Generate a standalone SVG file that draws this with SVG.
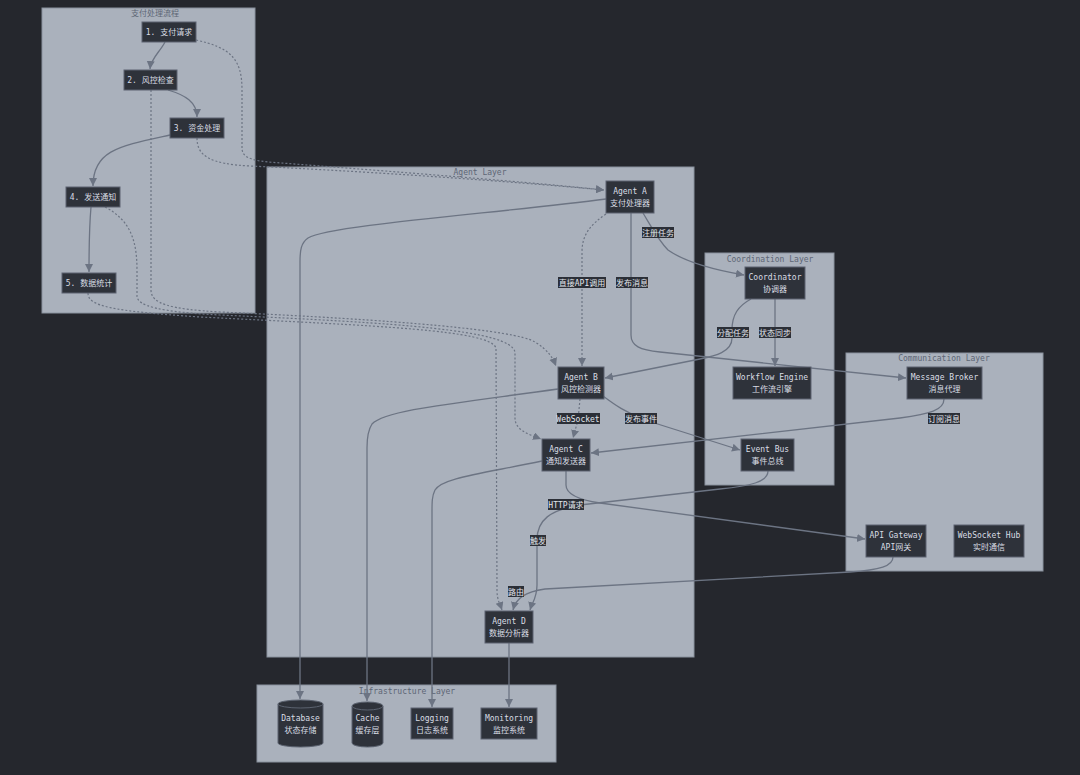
<svg xmlns="http://www.w3.org/2000/svg" width="1080" height="775" viewBox="0 0 1080 775">
<defs>
<style>
.cl{fill:#aab1bc;stroke:#8a929e;stroke-width:1}
.ct{font-family:"DejaVu Sans Mono","Noto Sans CJK SC",monospace;font-size:8px;fill:#5d6675;text-anchor:middle}
.nd{fill:#2e323a;stroke:#5c6370;stroke-width:1}
.nt{font-family:"DejaVu Sans Mono","Noto Sans CJK SC",monospace;font-size:8px;fill:#d9dde4;text-anchor:middle}
.e{fill:none;stroke:#6c7483;stroke-width:1.3}
.d{fill:none;stroke:#6c7483;stroke-width:1.2;stroke-dasharray:2 2}
.lb{fill:#2b2f37}
.lt{font-family:"DejaVu Sans Mono","Noto Sans CJK SC",monospace;font-size:8px;fill:#e1e5ec;text-anchor:middle}
</style>
<marker id="ah" markerUnits="userSpaceOnUse" markerWidth="9" markerHeight="9" refX="8" refY="4" orient="auto">
<path d="M0,0 L8,4 L0,8 z" fill="#6c7483"/>
</marker>
</defs>
<rect width="1080" height="775" fill="#25272d"/>

<g id="clusters">
<g id="cluster-pay"><rect class="cl" x="42" y="8" width="213" height="305"/><text class="ct" x="155" y="16">支付处理流程</text></g>
<g id="cluster-agent"><rect class="cl" x="267" y="167" width="427" height="490"/><text class="ct" x="480" y="175">Agent Layer</text></g>
<g id="cluster-coord"><rect class="cl" x="705" y="253" width="129" height="232"/><text class="ct" x="770" y="262">Coordination Layer</text></g>
<g id="cluster-comm"><rect class="cl" x="846" y="353" width="197" height="218"/><text class="ct" x="944" y="361">Communication Layer</text></g>
<g id="cluster-infra"><rect class="cl" x="257" y="685" width="299" height="77"/><text class="ct" x="407" y="694">Infrastructure Layer</text></g>
</g>

<g id="connectors">
<path class="e" d="M165,42 C160,52 151,58 150,69" marker-end="url(#ah)"/>
<path class="e" d="M168,90 C185,95 197,102 197,117" marker-end="url(#ah)"/>
<path class="e" d="M170,135 C120,146 93,150 93,186" marker-end="url(#ah)"/>
<path class="e" d="M91,207 C89,230 89,250 89,272" marker-end="url(#ah)"/>

<path class="d" d="M196,40 C232,48 242,60 242,90 L242,148 C242,157 250,160 268,162 C400,172 540,183 604,190" marker-end="url(#ah)"/>
<path class="d" d="M197,138 C197,156 210,164 250,166 C400,173 540,184 604,190" marker-end="url(#ah)"/>
<path class="d" d="M151,90 L151,290 C151,304 170,309 220,312 C400,320 515,330 535,342 C548,350 553,358 556,366" marker-end="url(#ah)"/>
<path class="d" d="M105,207 C130,220 137,240 137,270 L137,296 C137,306 160,312 220,315 C400,323 510,330 515,352 L515,418 C515,430 528,434 541,439" marker-end="url(#ah)"/>
<path class="d" d="M88,293 C88,306 110,311 200,317 C380,326 490,330 496,348 L497,590 C497,600 500,604 502,610" marker-end="url(#ah)"/>

<path class="e" d="M606,199 C500,213 330,225 308,238 C301,243 300,250 300,262 L300,699" marker-end="url(#ah)"/>
<path class="e" d="M643,213 C652,228 658,240 668,250 C685,262 715,270 744,275" marker-end="url(#ah)"/>
<path class="d" d="M606,214 C590,225 582,235 582,252 L582,366" marker-end="url(#ah)"/>
<path class="e" d="M631,213 L631,335 C631,346 640,350 660,352 L906,378" marker-end="url(#ah)"/>
<path class="e" d="M751,299 C738,306 732,315 732,330 L732,338 C732,352 715,356 700,359 L605,378" marker-end="url(#ah)"/>
<path class="e" d="M775,299 L775,366" marker-end="url(#ah)"/>
<path class="e" d="M558,389 C450,404 385,410 372,424 C368,430 367,436 367,448 L367,701" marker-end="url(#ah)"/>
<path class="d" d="M580,399 L578,420 L573,438" marker-end="url(#ah)"/>
<path class="e" d="M603,396 C615,405 625,412 645,420 L740,450" marker-end="url(#ah)"/>
<path class="e" d="M944,399 C944,410 930,414 900,418 L591,453" marker-end="url(#ah)"/>
<path class="e" d="M542,461 C480,474 442,478 435,490 C432,496 432,502 432,512 L432,707" marker-end="url(#ah)"/>
<path class="e" d="M566,471 L566,485 C566,495 580,500 600,503 L865,539" marker-end="url(#ah)"/>
<path class="e" d="M768,471 C768,482 750,486 720,489 L580,505 C550,510 537,520 537,540 L537,585 C537,598 532,603 530,610" marker-end="url(#ah)"/>
<path class="e" d="M893,557 C893,566 880,570 850,572 L545,589 C525,592 516,598 513,610" marker-end="url(#ah)"/>
<path class="e" d="M509,643 L509,707" marker-end="url(#ah)"/>

<g id="edge-labels">
<rect class="lb" x="642" y="227" width="32" height="11"/><text class="lt" x="658" y="235.5">注册任务</text>
<rect class="lb" x="558" y="277" width="48" height="11"/><text class="lt" x="582" y="285.5">直接API调用</text>
<rect class="lb" x="616" y="277" width="32" height="11"/><text class="lt" x="632" y="285.5">发布消息</text>
<rect class="lb" x="717" y="327" width="32" height="11"/><text class="lt" x="733" y="335.5">分配任务</text>
<rect class="lb" x="759" y="327" width="32" height="11"/><text class="lt" x="775" y="335.5">状态同步</text>
<rect class="lb" x="557" y="413" width="43" height="11"/><text class="lt" x="578" y="421.5">WebSocket</text>
<rect class="lb" x="625" y="413" width="32" height="11"/><text class="lt" x="641" y="421.5">发布事件</text>
<rect class="lb" x="928" y="413" width="32" height="11"/><text class="lt" x="944" y="421.5">订阅消息</text>
<rect class="lb" x="548" y="499" width="36" height="11"/><text class="lt" x="566" y="507.5">HTTP请求</text>
<rect class="lb" x="530" y="535" width="16" height="11"/><text class="lt" x="538" y="543.5">触发</text>
<rect class="lb" x="508" y="586" width="16" height="11"/><text class="lt" x="516" y="594.5">路由</text>
</g>
</g>

<g id="n1"><rect class="nd" x="142" y="22" width="54" height="20"/><text class="nt" x="169" y="35">1. 支付请求</text></g>
<g id="n2"><rect class="nd" x="124" y="70" width="53" height="20"/><text class="nt" x="150.5" y="83">2. 风控检查</text></g>
<g id="n3"><rect class="nd" x="170" y="118" width="54" height="20"/><text class="nt" x="197" y="131">3. 资金处理</text></g>
<g id="n4"><rect class="nd" x="66" y="187" width="54" height="20"/><text class="nt" x="93" y="200">4. 发送通知</text></g>
<g id="n5"><rect class="nd" x="62" y="273" width="54" height="20"/><text class="nt" x="89" y="286">5. 数据统计</text></g>

<g id="agentA"><rect class="nd" x="606" y="181" width="48" height="32"/><text class="nt" x="630" y="194">Agent A</text><text class="nt" x="630" y="206">支付处理器</text></g>
<g id="coordinator"><rect class="nd" x="745" y="267" width="60" height="32"/><text class="nt" x="775" y="280">Coordinator</text><text class="nt" x="775" y="292">协调器</text></g>
<g id="workflow"><rect class="nd" x="733" y="367" width="78" height="32"/><text class="nt" x="772" y="380">Workflow Engine</text><text class="nt" x="772" y="392">工作流引擎</text></g>
<g id="broker"><rect class="nd" x="907" y="367" width="75" height="32"/><text class="nt" x="944.5" y="380">Message Broker</text><text class="nt" x="944.5" y="392">消息代理</text></g>
<g id="agentB"><rect class="nd" x="558" y="367" width="46" height="32"/><text class="nt" x="581" y="380">Agent B</text><text class="nt" x="581" y="392">风控检测器</text></g>
<g id="agentC"><rect class="nd" x="542" y="439" width="48" height="32"/><text class="nt" x="566" y="452">Agent C</text><text class="nt" x="566" y="464">通知发送器</text></g>
<g id="eventbus"><rect class="nd" x="741" y="439" width="53" height="32"/><text class="nt" x="767.5" y="452">Event Bus</text><text class="nt" x="767.5" y="464">事件总线</text></g>
<g id="apigw"><rect class="nd" x="866" y="525" width="60" height="32"/><text class="nt" x="896" y="538">API Gateway</text><text class="nt" x="896" y="550">API网关</text></g>
<g id="wshub"><rect class="nd" x="954" y="525" width="70" height="32"/><text class="nt" x="989" y="538">WebSocket Hub</text><text class="nt" x="989" y="550">实时通信</text></g>
<g id="agentD"><rect class="nd" x="485" y="611" width="48" height="32"/><text class="nt" x="509" y="624">Agent D</text><text class="nt" x="509" y="636">数据分析器</text></g>

<g id="database"><path class="nd" d="M278,704 A22.5,4 0 0 1 323,704 L323,743 A22.5,4 0 0 1 278,743 Z"/><path d="M278,704 A22.5,4 0 0 0 323,704" fill="none" stroke="#5c6370"/><text class="nt" x="300.5" y="721">Database</text><text class="nt" x="300.5" y="733">状态存储</text></g>
<g id="cache"><path class="nd" d="M352,706 A15.5,4 0 0 1 383,706 L383,743 A15.5,4 0 0 1 352,743 Z"/><path d="M352,706 A15.5,4 0 0 0 383,706" fill="none" stroke="#5c6370"/><text class="nt" x="367.5" y="721">Cache</text><text class="nt" x="367.5" y="733">缓存层</text></g>
<g id="logging"><rect class="nd" x="411" y="708" width="42" height="31"/><text class="nt" x="432" y="721">Logging</text><text class="nt" x="432" y="733">日志系统</text></g>
<g id="monitoring"><rect class="nd" x="481" y="708" width="56" height="31"/><text class="nt" x="509" y="721">Monitoring</text><text class="nt" x="509" y="733">监控系统</text></g>
</svg>
